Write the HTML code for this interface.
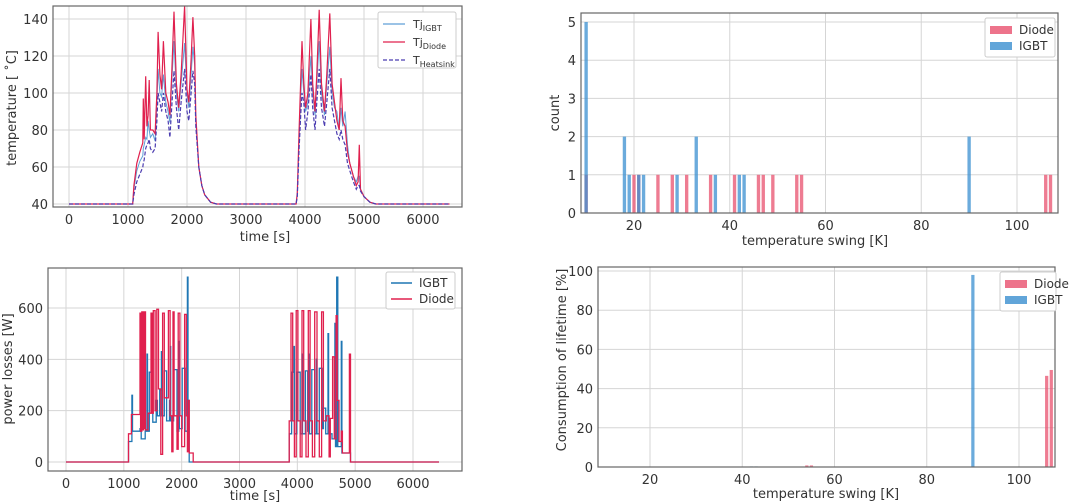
<!DOCTYPE html>
<html><head><meta charset="utf-8"><style>
body{margin:0;background:#fff;}
svg{display:block;font-family:"DejaVu Sans","Liberation Sans",sans-serif;}
.tk{font-size:13px;fill:#333;}
.lb{font-size:13px;fill:#333;}
</style></head><body>
<svg id="s" width="1080" height="504" viewBox="0 0 1080 504" xmlns="http://www.w3.org/2000/svg"></svg>
<script>
// ---- data: temperature chart ----
const tTimes=[0,1080,1100,1150,1200,1250,1260,1275,1300,1320,1340,1360,1380,1420,1460,1490,1510,1540,1570,1600,1640,1680,1710,1740,1780,1820,1860,1900,1960,2000,2030,2070,2100,2130,2150,2200,2250,2300,2400,2500,3850,3870,3900,3930,3950,3980,4010,4050,4100,4130,4170,4200,4240,4280,4330,4370,4420,4460,4500,4540,4580,4610,4640,4680,4720,4760,4820,4870,4900,4920,4940,5000,5100,5200,6450];
const tIgbt=[40,40,48,58,63,66,70,72,76,75,85,80,76,78,74,95,113,100,98,110,95,90,84,105,128,100,90,105,127,100,92,110,125,115,85,60,50,45,41,40,40,45,75,100,113,100,90,95,120,100,88,105,128,100,88,105,125,100,92,90,80,92,82,90,72,62,55,52,55,55,48,44,41,40,40];
const tDiode=[40,40,50,62,68,73,97,75,109,82,88,107,80,80,78,100,133,110,102,128,100,95,88,110,144,105,92,110,147,102,95,118,141,120,88,60,50,45,41,40,40,46,80,110,128,105,92,100,140,105,90,110,145,105,90,110,143,105,95,85,80,108,85,82,68,62,55,50,52,72,48,44,41,40,40];
const tHs=[40,40,45,52,56,60,62,64,70,72,73,75,70,68,70,85,100,95,90,100,90,85,76,92,112,92,80,95,113,90,85,100,112,105,82,60,50,45,41,40,40,44,70,90,100,95,80,90,110,92,80,95,113,92,82,95,113,92,85,78,75,80,75,72,62,58,52,48,50,50,47,44,41,40,40];
const tXTicks=[0,1000,2000,3000,4000,5000,6000];
const tYTicks=[40,60,80,100,120,140];
// ---- data: power losses ----
const pIgbtT=[0,1080,1140,1150,1280,1300,1370,1400,1410,1440,1500,1560,1580,1620,1650,1660,1700,1740,1790,1800,1810,1860,1920,1950,1960,2010,2060,2100,2110,2130,3860,3900,3940,3950,3990,4050,4080,4090,4140,4180,4200,4210,4250,4300,4330,4340,4380,4430,4450,4490,4530,4540,4600,4650,4660,4680,4700,4760,4770,4920,6450];
const pIgbtV=[0,80,260,120,130,90,120,420,120,350,155,240,180,280,430,180,355,160,240,450,160,360,120,470,130,365,120,720,240,0,110,350,450,110,350,110,420,110,355,120,420,110,360,110,400,110,365,130,210,110,500,110,90,540,60,720,60,470,35,0,0];
const pDiodeT=[0,1080,1130,1280,1290,1310,1320,1340,1350,1365,1375,1420,1470,1490,1510,1540,1570,1600,1640,1670,1700,1770,1800,1830,1850,1870,1920,1940,1970,2000,2050,2080,2100,2110,2130,2200,3860,3890,3920,3950,3980,4010,4050,4080,4110,4150,4190,4220,4260,4300,4340,4380,4420,4450,4500,4550,4570,4610,4640,4670,4690,4720,4760,4780,4900,4920,6450];
const pDiodeV=[0,110,185,580,120,585,125,585,130,585,125,190,580,190,590,200,595,285,30,580,250,590,180,40,585,180,50,580,180,60,575,180,40,240,35,0,160,580,160,20,590,160,20,590,160,20,590,160,20,585,160,20,585,160,180,20,170,410,90,570,240,80,120,35,420,0,0];
const pXTicks=[0,1000,2000,3000,4000,5000,6000];
const pYTicks=[0,200,400,600];
// ---- data: count histogram ----
const hDiodeBins=[10,20,21,25,28,31,36,41,46,47,49,54,55,106,107];
const hDiodeCounts=[1,1,1,1,1,1,1,1,1,1,1,1,1,1,1];
const hIgbtBins=[10,18,19,21,22,29,33,37,42,43,90];
const hIgbtCounts=[5,2,1,1,1,1,2,1,1,1,2];
const hXTicks=[20,40,60,80,100];
const hYTicks=[0,1,2,3,4,5];
// ---- data: lifetime ----
const lDiodeBins=[47,49,54,55,106,107];
const lDiodeVals=[0.2,0.2,0.8,0.8,46.5,49.5];
const lIgbtBins=[42,43,90];
const lIgbtVals=[0.3,0.3,98];
const lXTicks=[20,40,60,80,100];
const lYTicks=[0,20,40,60,80,100];

const NS="http://www.w3.org/2000/svg";
const S=document.getElementById('s');
function el(tag,attrs,parent){const e=document.createElementNS(NS,tag);for(const k in attrs)e.setAttribute(k,attrs[k]);(parent||S).appendChild(e);return e;}
function txt(x,y,s,cls,anchor,parent){const e=el('text',{x:x,y:y,class:cls,'text-anchor':anchor||'middle'},parent);e.textContent=s;return e;}

function frame(g,L,T,R,B,xs,ys,xt,yt){
  xt.forEach(v=>{const x=xs(v);
    const l=el('line',{x1:x,x2:x,y1:T,y2:B,stroke:'#d5d5d5','stroke-width':1},g);
    
    
    const t=txt(x,B+17,String(v),'tk','middle',g);
    
    
  });
  yt.forEach(v=>{const y=ys(v);
    const l=el('line',{x1:L,x2:R,y1:y,y2:y,stroke:'#d5d5d5','stroke-width':1},g);
    
    
    const t=txt(L-5,y+5,String(v),'tk','end',g);
    
    
  });
}
function border(g,L,T,R,B){const r=el('rect',{x:L,y:T,width:R-L,height:B-T,fill:'none',stroke:'#666','stroke-width':1.2},g);
  
  }
function pathLine(xs,ys,T,V,step){let d='';for(let i=0;i<T.length;i++){const x=xs(T[i]).toFixed(1),y=ys(V[i]).toFixed(1);
  if(i===0)d+='M'+x+' '+y;else{ if(step)d+='H'+x; d+=' L'+x+' '+y;}}return d;}

// ===== Chart 1 =====
{
const g=el('g',{});


const L=53,T=6,R=462,B=207;
const xs=v=>69+v*(354/6000), ys=v=>204-(v-40)*(185/100);
frame(g,L,T,R,B,xs,ys,tXTicks,tYTicks);
const a=el('path',{d:pathLine(xs,ys,tTimes,tIgbt),fill:'none',stroke:'#5f9fd6','stroke-width':1},g);


const b=el('path',{d:pathLine(xs,ys,tTimes,tDiode),fill:'none',stroke:'#e0204e','stroke-width':1.2},g);


const c=el('path',{d:pathLine(xs,ys,tTimes,tHs),fill:'none',stroke:'#4b3cb0','stroke-width':1.2,'stroke-dasharray':'4 2'},g);


border(g,L,T,R,B);
const xl=txt(265,241,'time [s]','lb','middle',g);


const yl=txt(0,0,'temperature [ ˚C]','lb','middle',g);
yl.setAttribute('transform','translate(16,108) rotate(-90)');


const lg=el('g',{},g);


el('rect',{x:378,y:12,width:78,height:56,fill:'#fff',stroke:'#ccc',rx:2},lg);
const items=[['IGBT','#5f9fd6',''],['Diode','#e0204e',''],['Heatsink','#4b3cb0','4 2']];
items.forEach((it,i)=>{const y=24+i*18;
  el('line',{x1:383,x2:405,y1:y,y2:y,stroke:it[1],'stroke-width':1.2,'stroke-dasharray':it[2]},lg);
  const t=el('text',{x:413,y:y+4,class:'lb','font-size':'11'},lg);
  
  
  t.setAttribute('style','font-size:11px');
  const s1=el('tspan',{},t);s1.textContent=i<2?'Tj':'T';
  const s2=el('tspan',{dy:3,style:'font-size:8px'},t);s2.textContent=it[0];
});
}
// ===== Chart 3 =====
{
const g=el('g',{});


const L=48,T=268,R=462,B=471;
const xs=v=>66+v*(347/6000), ys=v=>462-v*(154/600);
frame(g,L,T,R,B,xs,ys,pXTicks,pYTicks);
const a=el('path',{d:pathLine(xs,ys,pIgbtT,pIgbtV,true),fill:'none',stroke:'#1f77b4','stroke-width':1.3},g);


const b=el('path',{d:pathLine(xs,ys,pDiodeT,pDiodeV,true),fill:'none',stroke:'#e0204e','stroke-width':1.3},g);


border(g,L,T,R,B);
const xl=txt(255,500,'time [s]','lb','middle',g);


const yl=txt(0,0,'power losses [W]','lb','middle',g);
yl.setAttribute('transform','translate(12,369) rotate(-90)');


const lg=el('g',{},g);


el('rect',{x:386,y:272,width:69,height:37,fill:'#fff',stroke:'#ccc',rx:2},lg);
[['IGBT','#1f77b4'],['Diode','#e0204e']].forEach((it,i)=>{const y=283+i*16;
  el('line',{x1:391,x2:412,y1:y,y2:y,stroke:it[1],'stroke-width':1.6},lg);
  const t=txt(419,y+4,it[0],'lb','start',lg);t.setAttribute('style','font-size:12px');
  
  
});
}
// ===== bar helper =====
function bars(g,xs,ys,bins,vals,color,name){
  bins.forEach((b,i)=>{const x0=xs(b-0.35),x1=xs(b+0.35),y=ys(vals[i]),y0=ys(0);
    const r=el('rect',{x:x0,y:Math.min(y,y0),width:x1-x0,height:Math.abs(y0-y),fill:color,'fill-opacity':0.75},g);
    
    
  });
}
function barLegend(g,x,y,w){
  const lg=el('g',{},g);
  
  
  el('rect',{x:x,y:y,width:w,height:39,fill:'#fff',stroke:'#ccc',rx:2},lg);
  [['Diode','#e8506e'],['IGBT','#3a8fd0']].forEach((it,i)=>{const yy=y+12+i*16;
    el('rect',{x:x+5,y:yy-4,width:22,height:8,fill:it[1],'fill-opacity':0.8},lg);
    const t=txt(x+34,yy+4,it[0],'lb','start',lg);t.setAttribute('style','font-size:12px');
    
    
  });
}
// ===== Chart 2 =====
{
const g=el('g',{});


const L=581,T=13,R=1058,B=213;
const xs=v=>634+(v-20)*(383/80), ys=v=>213-v*(191/5);
frame(g,L,T,R,B,xs,ys,hXTicks,hYTicks);
bars(g,xs,ys,hDiodeBins,hDiodeCounts,'#e8506e','diode-bar');
bars(g,xs,ys,hIgbtBins,hIgbtCounts,'#3a8fd0','igbt-bar');
border(g,L,T,R,B);
const xl=txt(815,245,'temperature swing [K]','lb','middle',g);


const yl=txt(0,0,'count','lb','middle',g);
yl.setAttribute('transform','translate(559,113) rotate(-90)');


barLegend(g,985,18,70);
}
// ===== Chart 4 =====
{
const g=el('g',{});


const L=598,T=267,R=1055,B=467;
const xs=v=>650+(v-20)*(369/80), ys=v=>467-v*1.96;
frame(g,L,T,R,B,xs,ys,lXTicks,lYTicks);
bars(g,xs,ys,lDiodeBins,lDiodeVals,'#e8506e','diode-bar');
bars(g,xs,ys,lIgbtBins,lIgbtVals,'#3a8fd0','igbt-bar');
border(g,L,T,R,B);
const xl=txt(826,498,'temperature swing [K]','lb','middle',g);


const yl=txt(0,0,'Consumption of lifetime [%]','lb','middle',g);
yl.setAttribute('transform','translate(566,360) rotate(-90)');


barLegend(g,1000,272,56);
}
</script>
</body></html>
